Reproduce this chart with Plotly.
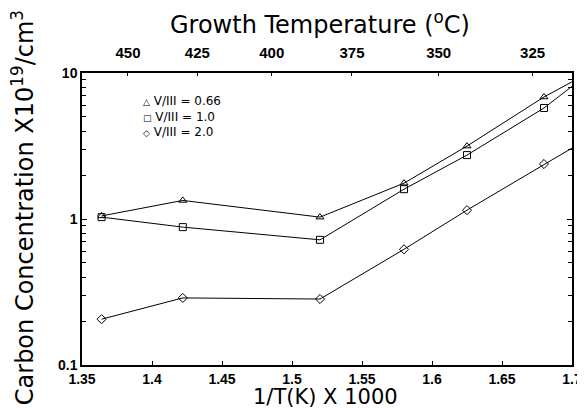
import plotly.graph_objects as go

# 1/T(K) x 1000 positions of the measurements
inv_t = [1.364, 1.422, 1.52, 1.58, 1.625, 1.68]
# Carbon concentration (x10^19 /cm^3)
c_066 = [1.05, 1.34, 1.03, 1.76, 3.16, 6.85]
c_10 = [1.03, 0.88, 0.72, 1.60, 2.74, 5.76]
c_20 = [0.206, 0.288, 0.283, 0.62, 1.15, 2.38]
# straight-line fits extended to the right edge (1/T = 1.7)
fit_x_end = 1.7
fit_end_066 = 8.7
fit_end_10 = 8.1
fit_end_20 = 3.06

series_names = ["V/III = 0.66", "V/III = 1.0", "V/III = 2.0"]
series_vals = [c_066, c_10, c_20]
series_ends = [fit_end_066, fit_end_10, fit_end_20]
symbols = ["triangle-up-open", "square-open", "diamond-open"]
legend_glyphs = ["\u25b3", "\u25a1", "\u25c7"]

x_ticks = [1.35, 1.4, 1.45, 1.5, 1.55, 1.6, 1.65, 1.7]
x_ticktext = ["1.35", "1.4", "1.45", "1.5", "1.55", "1.6", "1.65", "1.7"]
temp_ticks_c = [450, 425, 400, 375, 350, 325]
temp_tickvals = [1000.0 / (t + 273.15) for t in temp_ticks_c]

FONT = "Liberation Sans, Arial, sans-serif"
WIDE = "DejaVu Sans, Verdana, sans-serif"

fig = go.Figure()

for name, vals, end, sym in zip(series_names, series_vals, series_ends, symbols):
    fig.add_trace(go.Scatter(
        x=inv_t + [fit_x_end], y=vals + [end], mode="lines",
        line=dict(color="black", width=1), showlegend=False, hoverinfo="skip",
    ))
    fig.add_trace(go.Scatter(
        x=inv_t, y=vals, mode="markers", name=name, showlegend=False,
        marker=dict(symbol=sym, size=7, color="black", line=dict(width=1, color="black")),
    ))

# invisible trace to anchor the top temperature axis
fig.add_trace(go.Scatter(x=[x_ticks[0], x_ticks[-1]], y=[1, 1], xaxis="x2",
                         mode="markers", marker=dict(opacity=0), showlegend=False,
                         hoverinfo="skip"))

legend_text = "<br>".join(
    "<span style='font-size:9px'>" + g + "</span> " + n for g, n in zip(legend_glyphs, series_names))

annotations = [
    # key
    dict(text=legend_text, xref="paper", yref="paper", x=0.12, y=0.936,
         xanchor="left", yanchor="top", align="left", showarrow=False,
         font=dict(size=12, family=WIDE)),
    # top axis title
    dict(text="Growth Temperature (<sup>o</sup>C)", xref="paper", yref="paper",
         x=0.486, y=1.0, yshift=50, xanchor="center", yanchor="middle",
         showarrow=False, font=dict(size=24, family=WIDE)),
    # bottom axis title
    dict(text="1/T(K) X 1000", xref="paper", yref="paper",
         x=0.496, y=0.0, yshift=-32, xanchor="center", yanchor="middle",
         showarrow=False, font=dict(size=21, family=WIDE)),
    # left axis title
    dict(text="Carbon Concentration X10<sup>19</sup>/cm<sup>3</sup>", xref="paper", yref="paper",
         x=0.0, xshift=-59, y=0.537, xanchor="center", yanchor="middle", textangle=-90,
         showarrow=False, font=dict(size=24, family=WIDE)),
]

fig.update_layout(
    width=585, height=409,
    margin=dict(l=74, r=11, t=65, b=52),
    paper_bgcolor="white", plot_bgcolor="white",
    font=dict(family=FONT, color="black"),
    showlegend=False,
    xaxis=dict(range=[1.35, 1.7], tickmode="array", tickvals=x_ticks, ticktext=x_ticktext,
               ticks="inside", ticklen=4, tickcolor="black", showgrid=False, zeroline=False,
               showline=True, linecolor="black", linewidth=1.5,
               tickfont=dict(size=14, family=FONT, weight="bold")),
    xaxis2=dict(range=[1.35, 1.7], overlaying="x", side="top", anchor="y",
                tickmode="array", tickvals=temp_tickvals,
                ticktext=[str(t) for t in temp_ticks_c],
                ticks="inside", ticklen=3, tickcolor="black", showgrid=False, zeroline=False,
                showline=True, linecolor="black", linewidth=1.5, ticklabelstandoff=7,
                tickfont=dict(size=15, family=FONT, weight="bold")),
    yaxis=dict(type="log", range=[-1, 1], dtick=1, ticks="inside", ticklen=5,
               tickcolor="black", showgrid=False, zeroline=False,
               showline=True, linecolor="black", linewidth=1.5, mirror="ticks",
               tickfont=dict(size=14, family=FONT, weight="bold"),
               minor=dict(ticks="inside", ticklen=4, dtick="D1", tickcolor="black", showgrid=False)),
    annotations=annotations,
)

fig.write_html("out.html")
